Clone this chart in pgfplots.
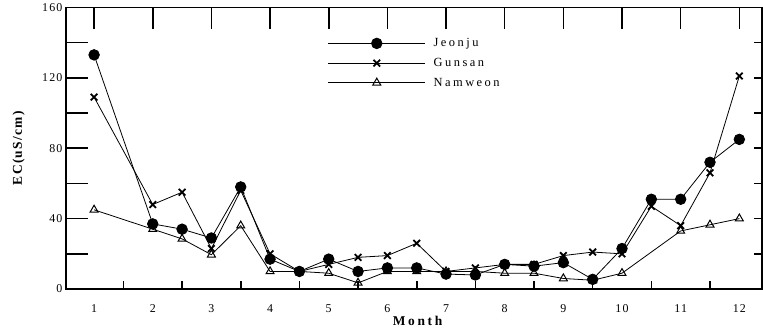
\documentclass[border=0pt]{standalone}
\usepackage{fontspec}
\setmainfont{Liberation Serif}
\newfontfamily\wide{Liberation Serif}[LetterSpace=10]
\newfontfamily\wider{Liberation Serif}[LetterSpace=20]
\usepackage{pgfplots}
\pgfplotsset{compat=1.18}

\begin{document}
\begin{tikzpicture}
\begin{axis}[
  scale only axis, width=697bp, height=282bp,
  xmin=0.52, xmax=12.39, ymin=0, ymax=160,
  axis line style={line width=1.6bp},
  xtick={1,...,12},
  ytick={0,20,...,160}, yticklabels={0,,40,,80,,120,,160},
  tick style={draw=none},
  tick label style={font=\wide\fontsize{12}{14}\selectfont},
  xticklabel style={yshift=-12bp},
  /pgf/number format/assume math mode=true,
  xlabel={\bfseries Month},
  ylabel={\bfseries EC(uS/cm)},
  xlabel style={font=\wider\fontsize{13.5}{15}\selectfont,
    at={(axis description cs:0.505,-0.113)}, anchor=center},
  ylabel style={font=\wide\fontsize{13.5}{15}\selectfont,
    at={(axis description cs:-0.068,0.5)}, anchor=center},
  legend style={at={(axis description cs:0.376,0.897)}, anchor=north west,
    draw=none, fill=none, inner sep=0pt, row sep=6bp,
    font=\wider\fontsize{12.5}{14}\selectfont},
  legend cell align=left,
  legend image code/.code={\draw[mark repeat=2,mark phase=2,#1]
    plot coordinates {(0bp,0bp) (48.5bp,0bp) (97bp,0bp)};
    \path (103bp,0bp);},
  every axis plot/.append style={black, line width=0.8bp},
]
% tick marks: long month ticks on top and left, short ones bottom and right
\pgfplotsinvokeforeach{1,2,3,4,5,6,7,8,9,10,11,12}{
  \draw[line width=1.6bp] (axis cs:#1,160) -- ++(0bp,-22bp);}
\pgfplotsinvokeforeach{1.5,2.5,3.5,4.5,5.5,6.5,7.5,8.5,9.5,10.5,11.5}{
  \draw[line width=1.6bp] (axis cs:#1,0) -- ++(0bp,8bp);}
\pgfplotsinvokeforeach{20,40,60,80,100,120,140}{
  \draw[line width=1.6bp] (axis cs:0.52,#1) -- ++(22bp,0bp);
  \draw[line width=1.6bp] (axis cs:12.39,#1) -- ++(-8bp,0bp);}

\addplot[mark=*, mark size=5.3bp, mark options={fill=black}] coordinates {
  (1,133) (2,37) (2.5,34) (3,29) (3.5,58) (4,17) (4.5,10) (5,17) (5.5,10)
  (6,12) (6.5,12) (7,8.5) (7.5,8) (8,14) (8.5,13) (9,15) (9.5,5.5) (10,23)
  (10.5,51) (11,51) (11.5,72) (12,85)};
\addlegendentry{Jeonju}
\addplot[mark=x, mark size=4.7bp, mark options={line width=1.8bp}] coordinates {
  (1,109) (2,48) (2.5,55) (3,23) (3.5,56) (4,20) (4.5,10) (5,14) (5.5,18)
  (6,19) (6.5,26) (7,10) (7.5,12) (8,14) (8.5,14) (9,19) (9.5,21) (10,20)
  (10.5,47) (11,36) (11.5,66) (12,121)};
\addlegendentry{Gunsan}
\addplot[mark=triangle, mark size=4.6bp, mark options={fill=white, line width=1bp}] coordinates {
  (1,45) (2,34) (2.5,28.5) (3,19.5) (3.5,36) (4,10) (4.5,10) (5,9) (5.5,3.5)
  (6,10) (6.5,10) (7,10) (7.5,10) (8,9) (8.5,9) (9,6) (9.5,5) (10,9)
  (11,33) (11.5,36.5) (12,40)};
\addlegendentry{Namweon}
\end{axis}
% left margin of the picture
\path (current axis.south west) ++(-66bp,0bp);
\end{tikzpicture}
\end{document}
